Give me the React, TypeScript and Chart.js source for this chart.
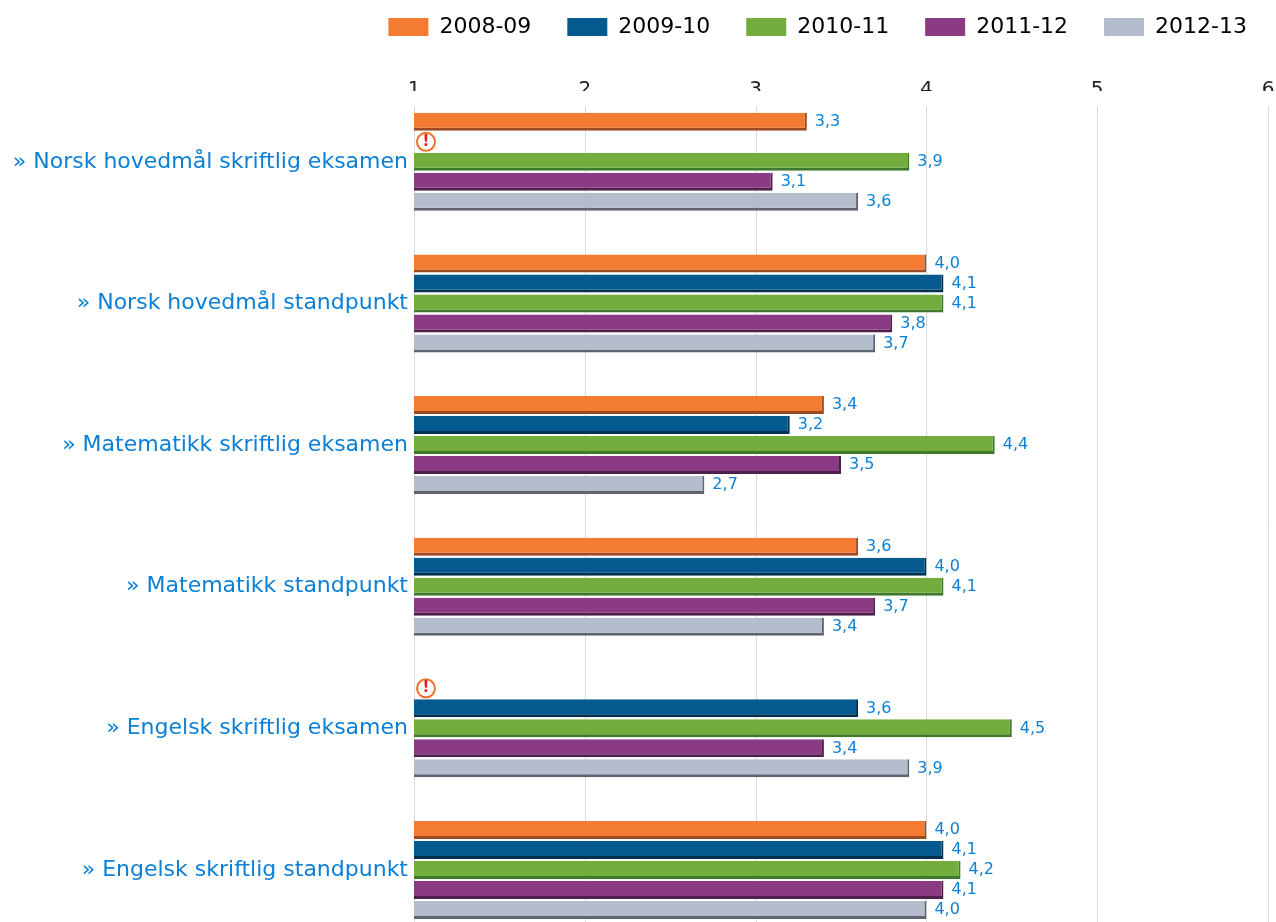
import React, { useEffect, useRef } from "react";
import { Chart, registerables } from "chart.js";

Chart.register(...registerables);

const categories = [
  "» Norsk hovedmål skriftlig eksamen",
  "» Norsk hovedmål standpunkt",
  "» Matematikk skriftlig eksamen",
  "» Matematikk standpunkt",
  "» Engelsk skriftlig eksamen",
  "» Engelsk skriftlig standpunkt",
];
const seriesNames = ["2008-09", "2009-10", "2010-11", "2011-12", "2012-13"];
const values0809 = [3.3, 4.0, 3.4, 3.6, null, 4.0];
const values0910 = [null, 4.1, 3.2, 4.0, 3.6, 4.1];
const values1011 = [3.9, 4.1, 4.4, 4.1, 4.5, 4.2];
const values1112 = [3.1, 3.8, 3.5, 3.7, 3.4, 4.1];
const values1213 = [3.6, 3.7, 2.7, 3.4, 3.9, 4.0];
const allValues = [values0809, values0910, values1011, values1112, values1213];
const fills = ["#f47b32", "#04598f", "#73ad3e", "#8b3a84", "#b5bccb"];
const edges = ["#9c4a22", "#02304f", "#3f7a2c", "#4f1f4c", "#5f6472"];

const FONT = "'DejaVu Sans'";
const BLUE = "#0b80d6";

const extras = {
  id: "extras",
  afterLayout(chart: any) {
    chart.legend.right += 15;
  },
  beforeDatasetsDraw(chart: any) {
    const { ctx, scales, chartArea } = chart;
    ctx.save();
    ctx.strokeStyle = "#dadada";
    ctx.lineWidth = 1;
    scales.x.ticks.forEach((_: any, i: number) => {
      const x = Math.round(scales.x.getPixelForTick(i)) + 0.5;
      ctx.beginPath();
      ctx.moveTo(x, 106);
      ctx.lineTo(x, chartArea.bottom);
      ctx.stroke();
    });
    ctx.restore();
  },
  afterDatasetsDraw(chart: any) {
    const { ctx, scales } = chart;
    ctx.save();
    chart.data.datasets.forEach((ds: any, d: number) => {
      const meta = chart.getDatasetMeta(d);
      ds.data.forEach((v: number | null, i: number) => {
        const el = meta.data[i];
        if (v === null) {
          const cx = scales.x.getPixelForValue(1) + 12;
          const cy = el.y;
          ctx.beginPath();
          ctx.arc(cx, cy, 9, 0, Math.PI * 2);
          ctx.fillStyle = "#fff";
          ctx.fill();
          ctx.lineWidth = 2;
          ctx.strokeStyle = "#f0702a";
          ctx.stroke();
          ctx.fillStyle = "#ee1c10";
          ctx.font = `bold 15px ${FONT}`;
          ctx.textAlign = "center";
          ctx.textBaseline = "middle";
          ctx.fillText("!", cx, cy);
          return;
        }
        ctx.fillStyle = BLUE;
        ctx.font = `16px ${FONT}`;
        ctx.textAlign = "left";
        ctx.textBaseline = "middle";
        ctx.fillText(v.toFixed(1).replace(".", ","), scales.x.getPixelForValue(v) + 8, el.y);
      });
    });
    ctx.restore();
  },
};

export default function App() {
  const ref = useRef<HTMLCanvasElement>(null);
  useEffect(() => {
    document.body.style.margin = "0";
    const chart = new Chart(ref.current as HTMLCanvasElement, {
      type: "bar",
      data: {
        labels: categories,
        datasets: seriesNames.map((name, i) => ({
          label: name,
          data: allValues[i],
          backgroundColor: fills[i],
          borderColor: edges[i],
          borderWidth: { top: 0, left: 0, right: 2, bottom: 3 },
          borderSkipped: false,
          categoryPercentage: 0.706,
          barPercentage: 0.9,
        })),
      } as any,
      options: {
        indexAxis: "y",
        responsive: false,
        animation: false,
        devicePixelRatio: 1,
        layout: { padding: { top: -20, left: 0, right: 8, bottom: 19 } },
        plugins: {
          tooltip: { enabled: false },
          legend: {
            position: "top",
            align: "end",
            onClick: undefined,
            labels: {
              boxWidth: 40,
              boxHeight: 18,
              padding: 36,
              color: "#222",
              font: { family: FONT, size: 22 },
              generateLabels: () =>
                seriesNames.map((name, i) => ({
                  text: name,
                  fillStyle: fills[i],
                  strokeStyle: fills[i],
                  lineWidth: 0,
                  datasetIndex: i,
                  hidden: false,
                })),
            },
          },
        },
        scales: {
          x: {
            type: "linear",
            position: "top",
            min: 1,
            max: 6,
            afterFit: (s: any) => {
              s.height = 43;
            },
            grid: { display: false, drawTicks: false },
            border: { display: false },
            ticks: {
              stepSize: 1,
              padding: -11,
              color: "#222",
              font: { family: FONT, size: 20 },
            },
          },
          y: {
            type: "category",
            afterFit: (s: any) => {
              s.width = 414;
            },
            grid: { display: false, drawTicks: false },
            border: { display: false },
            ticks: {
              padding: 6,
              color: BLUE,
              font: { family: FONT, size: 22 },
            },
          },
        },
      } as any,
      plugins: [extras],
    });
    return () => chart.destroy();
  }, []);
  return (
    <div style={{ width: 1276, height: 922, overflow: "hidden", background: "#fff" }}>
      <canvas ref={ref} width={1276} height={960} style={{ display: "block" }} />
    </div>
  );
}
